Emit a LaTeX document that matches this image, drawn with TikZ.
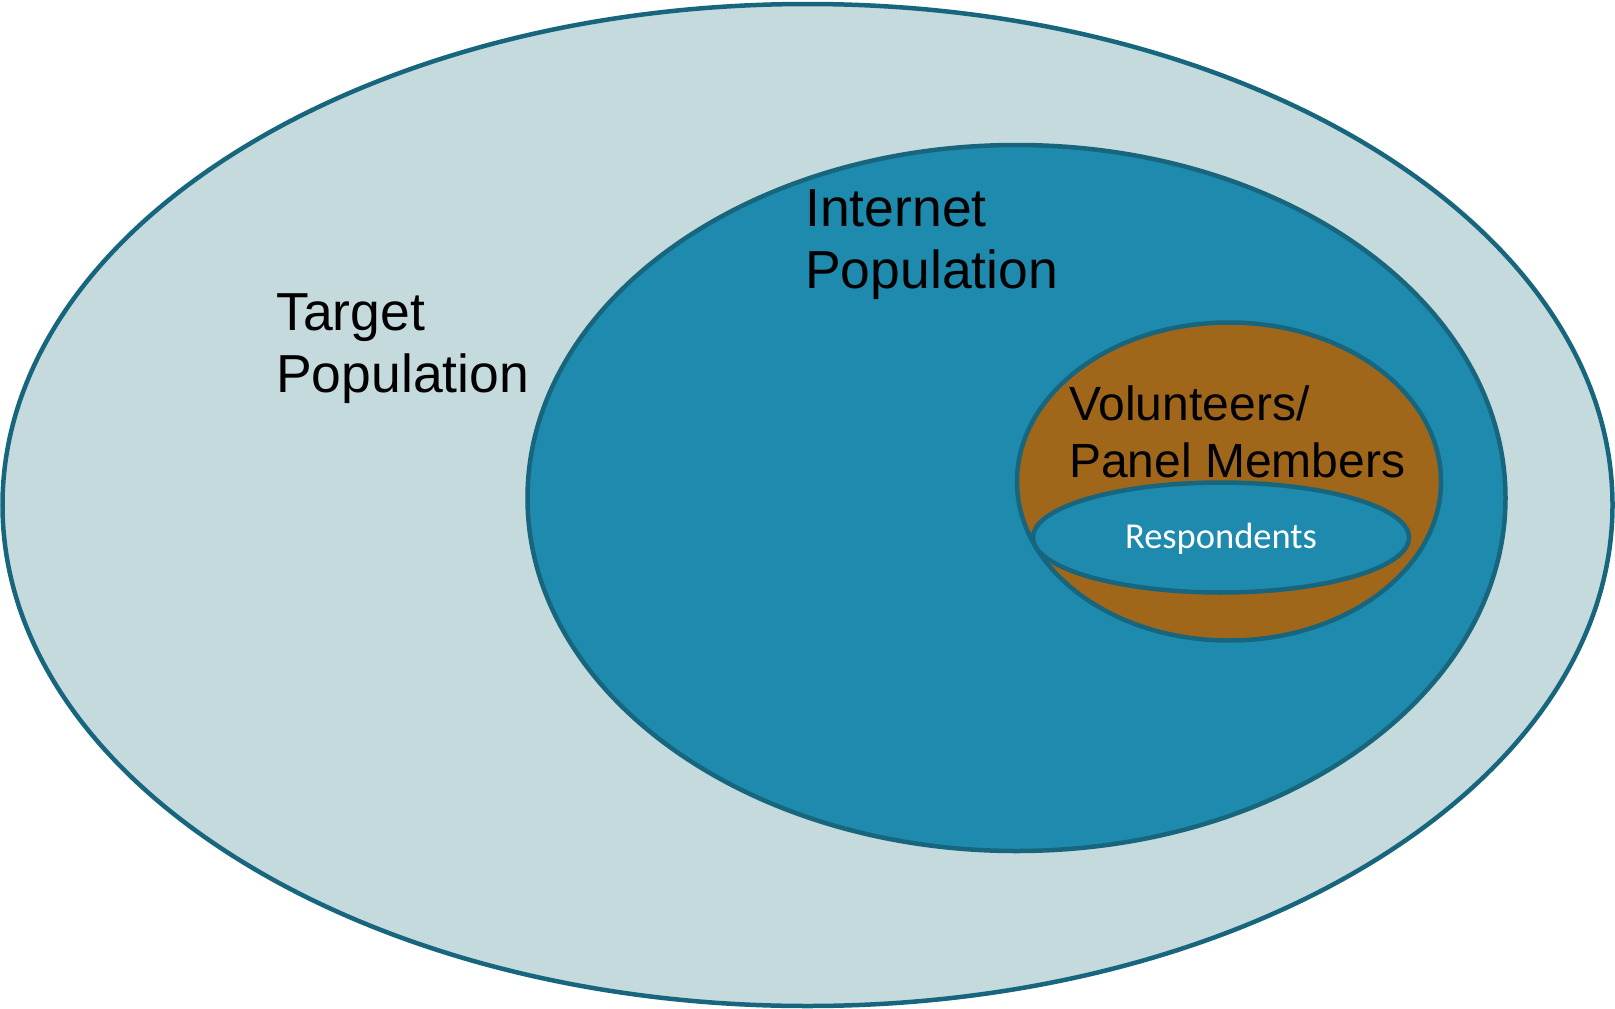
\documentclass[tikz,border=0pt]{standalone}
\usepackage{fontspec}
\setmainfont{Liberation Sans}
\newfontfamily\calibrifont{Carlito}
\usetikzlibrary{positioning}

\definecolor{rimteal}{HTML}{17667E}
\definecolor{paleteal}{HTML}{C4DADC}
\definecolor{netblue}{HTML}{1E8AAD}
\definecolor{panelbrown}{HTML}{A0661A}

\tikzset{
  rim/.style = {draw = rimteal, line width = 4.5pt},
  biglabel/.style = {anchor = base west, inner sep = 0pt, align = left,
    font = \fontsize{53.5}{62}\selectfont},
}

\begin{document}
\begin{tikzpicture}[x = 1pt, y = -1pt]
\useasboundingbox (0,0) rectangle (1615,1009);
% nested populations
\filldraw[rim, fill = paleteal] (807.5,505) ellipse (805pt and 501pt);
\filldraw[rim, fill = netblue] (1016.5,498) ellipse (489pt and 353pt);
\filldraw[rim, fill = panelbrown] (1229,481.5) ellipse (212pt and 159pt);
\filldraw[rim, fill = netblue] (1221,537.5) ellipse (188pt and 55pt);
% labels (base = last line)
\node[biglabel] (target) at (276,392) {Target\\Population};
\node[biglabel] (internet) at (805,288) {Internet\\Population};
\node[biglabel, font = \fontsize{48}{57}\selectfont] (panel) at (1069,477) {Volunteers/\\Panel Members};
\node[text = white, inner sep = 0pt, font = \calibrifont\fontsize{36.5}{40}\selectfont] (resp) at (1221,539) {Respondents};
\end{tikzpicture}
\end{document}
